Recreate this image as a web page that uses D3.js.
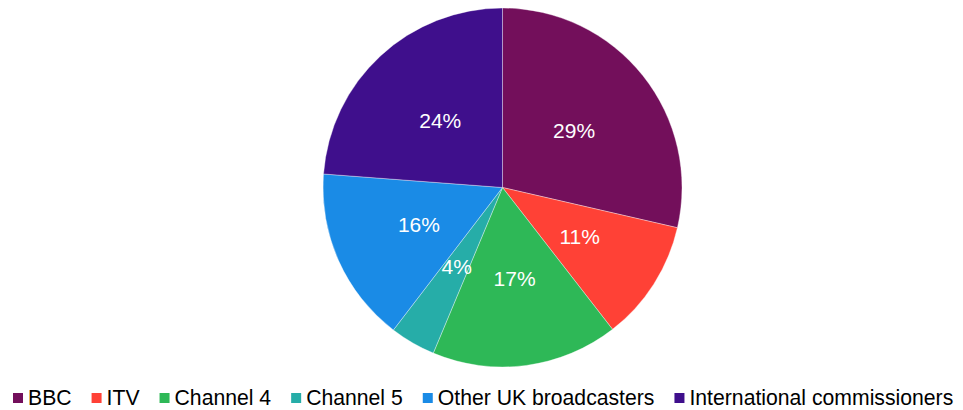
<!DOCTYPE html>
<meta charset="utf-8">

<style>
body{
	background-color: #fff;
	margin: 0px;
}
text{
	font-family: "Liberation Sans", Arial, sans-serif;
}
</style>

<body></body>

<script src="https://cdn.jsdelivr.net/npm/d3@7"></script>

<script>

var categories = ['BBC', 'ITV', 'Channel 4', 'Channel 5', 'Other UK broadcasters', 'International commissioners']
var shares     = [28.6, 10.9, 16.8, 4.1, 15.8, 23.8]
var colours    = ['#730f5b', '#ff4136', '#2eb857', '#26ada8', '#1a8be6', '#3f0f8c']

var width  = 963,
		height = 410,
		cx = 502.5, cy = 187.5,
		r  = 179.5

var svg = d3.select('body')
	.append('svg')
		.attr('width', width)
		.attr('height', height)

var data = categories.map(function(c, i){ return {name: c, value: shares[i], colour: colours[i]} })

var pie = d3.pie().sort(null).value(function(d){ return d.value })
var arc = d3.arc().innerRadius(0).outerRadius(r)
var labelArc = d3.arc().innerRadius(r*0.51).outerRadius(r*0.51)

var g = svg.append('g').attr('transform', 'translate(' + cx + ',' + cy + ')')

var slices = g.selectAll('g.slice').data(pie(data)).enter().append('g').attr('class', 'slice')

slices.append('path')
		.attr('d', arc)
		.attr('fill', function(d){ return d.data.colour })
		.attr('stroke', 'rgba(255,255,255,0.6)')
		.attr('stroke-width', 0.6)

slices.append('text')
		.attr('transform', function(d){ return 'translate(' + labelArc.centroid(d) + ')' })
		.attr('text-anchor', 'middle')
		.attr('dy', '0.35em')
		.attr('fill', '#fff')
		.style('font-size', '21px')
		.text(function(d){ return Math.round(d.data.value) + '%' })

// legend
var legend = svg.append('g')
var items = legend.selectAll('g').data(data).enter().append('g')

items.append('rect')
		.attr('width', 10).attr('height', 10)
		.attr('y', 393)
		.attr('fill', function(d){ return d.colour })

items.append('text')
		.attr('x', 15)
		.attr('y', 405)
		.attr('fill', '#000')
		.style('font-size', '21.2px')
		.text(function(d){ return d.name })

var x = 0, gap = 20, pos = []
items.each(function(){
	var w = d3.select(this).select('text').node().getComputedTextLength()
	pos.push(x)
	x += 15 + w + gap
})
var start = 13
items.attr('transform', function(d, i){ return 'translate(' + (start + pos[i]) + ',0)' })

</script>
